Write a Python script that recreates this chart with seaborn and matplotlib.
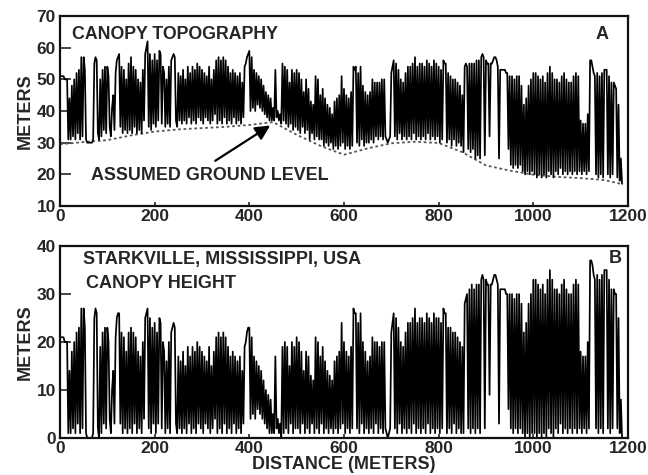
import numpy as np
import pandas as pd
import seaborn as sns
import matplotlib.pyplot as plt

# distance along the transect, every 2.5 m
distance = np.arange(0, 1190, 2.5)

# panel A: canopy top elevation (m), 100 m per block
topo = (
    [51, 51, 51, 51, 50, 50, 50, 31, 44, 31, 48, 32, 50, 31, 52, 33,
     53, 31, 57, 32, 57, 53, 31, 30, 30, 30, 30, 30, 31, 55, 57, 56,
     33, 31, 50, 32, 53, 34, 54, 33] +
    [54, 51, 35, 32, 41, 45, 34, 52, 56, 57, 58, 35, 54, 33, 53, 34,
     50, 33, 55, 34, 57, 33, 54, 35, 53, 33, 50, 34, 49, 33, 53, 37,
     58, 60, 62, 35, 58, 34, 56, 36] +
    [58, 35, 56, 37, 59, 58, 36, 54, 52, 35, 50, 36, 54, 35, 56, 57,
     58, 57, 37, 35, 52, 37, 51, 36, 53, 37, 50, 36, 54, 38, 52, 36,
     54, 37, 53, 36, 55, 38, 54, 37] +
    [53, 36, 52, 38, 51, 37, 54, 36, 50, 37, 53, 39, 56, 36, 57, 37,
     56, 36, 57, 38, 56, 36, 54, 37, 52, 36, 53, 38, 52, 36, 51, 37,
     52, 36, 49, 38, 54, 55, 57, 58] +
    [59, 40, 57, 41, 53, 40, 52, 42, 51, 41, 50, 40, 48, 39, 46, 38,
     45, 37, 44, 37, 41, 37, 53, 38, 40, 37, 39, 36, 55, 37, 54, 36,
     53, 35, 49, 36, 53, 34, 52, 35] +
    [53, 34, 52, 33, 50, 35, 46, 33, 50, 34, 47, 31, 43, 33, 42, 31,
     51, 32, 50, 31, 45, 31, 47, 29, 44, 30, 42, 29, 41, 30, 39, 28,
     43, 29, 44, 28, 45, 29, 51, 30] +
    [47, 28, 45, 29, 44, 28, 46, 29, 54, 53, 54, 30, 52, 29, 54, 31,
     48, 29, 46, 30, 45, 30, 46, 31, 50, 30, 49, 32, 49, 31, 49, 32,
     50, 31, 50, 32, 31, 30, 31, 32] +
    [52, 54, 56, 32, 55, 31, 53, 33, 50, 31, 49, 32, 52, 31, 54, 32,
     54, 31, 55, 33, 57, 31, 54, 32, 55, 31, 55, 32, 54, 31, 56, 33,
     55, 31, 54, 32, 56, 31, 55, 32] +
    [54, 30, 53, 31, 56, 55, 55, 30, 52, 31, 51, 29, 50, 31, 50, 29,
     49, 30, 48, 29, 45, 27, 54, 55, 54, 28, 55, 27, 55, 28, 55, 25,
     56, 26, 56, 25, 57, 58, 57, 26] +
    [56, 55, 55, 32, 55, 55, 56, 57, 57, 56, 54, 25, 53, 53, 53, 53,
     53, 52, 52, 28, 51, 23, 51, 22, 50, 23, 51, 22, 51, 23, 48, 21,
     42, 20, 44, 21, 48, 20, 50, 21] +
    [52, 20, 52, 19, 51, 20, 50, 19, 51, 20, 49, 19, 52, 21, 54, 20,
     52, 19, 50, 21, 50, 20, 49, 22, 51, 20, 52, 21, 50, 20, 49, 21,
     49, 20, 51, 21, 52, 20, 51, 21] +
    [37, 20, 36, 21, 36, 20, 39, 21, 56, 56, 54, 52, 51, 20, 52, 19,
     51, 20, 52, 19, 53, 53, 53, 20, 51, 19, 49, 20, 49, 48, 47, 19,
     42, 18, 25, 17]
)

# panel B: canopy height (m)
height = (
    [21, 21, 21, 21, 20, 20, 20, 1, 14, 1, 18, 2, 20, 1, 22, 3,
     23, 1, 27, 2, 27, 23, 1, 0, 0, 0, 0, 0, 1, 25, 27, 26,
     2, 0, 19, 1, 22, 3, 23, 2] +
    [23, 20, 4, 1, 10, 14, 3, 21, 25, 26, 26, 3, 22, 1, 21, 2,
     18, 1, 22, 2, 23, 1, 22, 3, 21, 1, 18, 2, 17, 1, 20, 4,
     25, 26, 27, 2, 25, 1, 23, 3] +
    [24, 1, 22, 3, 25, 24, 2, 20, 18, 1, 16, 2, 20, 1, 22, 23,
     24, 23, 3, 1, 17, 2, 16, 1, 18, 2, 15, 1, 19, 3, 17, 1,
     19, 2, 18, 1, 20, 3, 19, 2] +
    [18, 1, 17, 3, 16, 2, 19, 1, 15, 2, 18, 4, 21, 1, 22, 2,
     21, 1, 22, 3, 21, 1, 19, 2, 17, 1, 18, 3, 17, 1, 16, 2,
     17, 1, 14, 3, 19, 20, 22, 23] +
    [23, 4, 21, 5, 17, 4, 16, 6, 15, 5, 14, 4, 12, 3, 10, 2,
     9, 1, 8, 1, 5, 1, 17, 2, 4, 1, 3, 0, 19, 1, 20, 2,
     19, 1, 15, 3, 20, 1, 19, 2] +
    [21, 2, 20, 1, 18, 3, 14, 1, 18, 2, 17, 1, 13, 3, 12, 1,
     21, 2, 20, 1, 17, 3, 19, 1, 16, 2, 14, 1, 13, 2, 12, 1,
     16, 2, 17, 1, 18, 2, 24, 3] +
    [20, 1, 18, 2, 17, 1, 19, 2, 27, 26, 26, 2, 24, 1, 26, 3,
     20, 1, 18, 2, 16, 1, 17, 2, 21, 1, 20, 3, 20, 1, 19, 2,
     20, 1, 20, 2, 1, 0, 1, 2] +
    [22, 24, 26, 2, 25, 1, 23, 3, 20, 1, 19, 2, 22, 1, 24, 2,
     24, 1, 25, 3, 27, 1, 24, 2, 25, 1, 25, 2, 24, 1, 26, 3,
     25, 1, 24, 2, 26, 1, 25, 2] +
    [25, 1, 24, 2, 27, 26, 26, 1, 23, 2, 23, 1, 22, 3, 22, 1,
     21, 2, 20, 1, 19, 1, 28, 29, 30, 2, 31, 1, 32, 2, 31, 1,
     32, 2, 32, 1, 33, 34, 33, 2] +
    [33, 32, 32, 9, 32, 32, 33, 34, 34, 33, 32, 3, 31, 31, 31, 31,
     31, 30, 30, 6, 30, 2, 30, 1, 29, 2, 30, 1, 30, 2, 28, 1,
     22, 0, 24, 1, 28, 0, 30, 1] +
    [33, 1, 33, 0, 32, 1, 31, 0, 32, 1, 30, 0, 33, 2, 35, 1,
     33, 0, 31, 2, 31, 1, 30, 3, 32, 1, 33, 2, 31, 1, 30, 2,
     30, 1, 32, 2, 33, 1, 32, 2] +
    [18, 1, 17, 2, 17, 1, 20, 2, 37, 37, 36, 34, 33, 2, 34, 1,
     33, 2, 34, 1, 35, 35, 35, 2, 33, 1, 31, 2, 31, 30, 30, 2,
     25, 1, 8, 0]
)

# assumed ground level (dotted line in panel A)
ground_x = [0, 50, 100, 150, 200, 250, 300, 350, 400, 450, 500, 550, 600,
            650, 700, 750, 800, 850, 900, 950, 1000, 1050, 1100, 1150, 1185]
ground_y = [29.5, 30.2, 30.8, 32.3, 33.5, 34.2, 34.6, 35.0, 35.6, 36.5, 32.5, 29.0, 26.2,
            28.2, 29.8, 30.3, 29.9, 27.0, 22.8, 21.2, 19.9, 19.2, 18.8, 18.2, 17.0]

df = pd.DataFrame({"distance": distance, "topo": topo, "height": height})
gdf = pd.DataFrame({"x": ground_x, "y": ground_y})

sns.set_style("ticks")
plt.rcParams["font.family"] = ["Liberation Sans", "DejaVu Sans"]
plt.rcParams["font.weight"] = "bold"

fig = plt.figure(figsize=(6.48, 4.75), dpi=100)
ax1 = fig.add_axes([0.0926, 0.5663, 0.8765, 0.40])
ax2 = fig.add_axes([0.0926, 0.0779, 0.8765, 0.404])

# panel A
sns.lineplot(data=gdf, x="x", y="y", ax=ax1, color="#555555", lw=1.3,
             linestyle=(0, (1.5, 1.5)))
sns.lineplot(data=df, x="distance", y="topo", ax=ax1, color="black", lw=1.25)
ax1.set_xlim(0, 1200)
ax1.set_ylim(10, 70)
ax1.set_yticks([10, 20, 30, 40, 50, 60, 70])
ax1.set_xticks([0, 200, 400, 600, 800, 1000, 1200])
ax1.set_ylabel("METERS", fontsize=13, fontweight="bold", labelpad=2)
ax1.set_xlabel("")
ax1.text(0.021, 0.905, "CANOPY TOPOGRAPHY", transform=ax1.transAxes,
         fontsize=12.8, fontweight="bold", va="center", ha="left")
ax1.text(0.954, 0.905, "A", transform=ax1.transAxes,
         fontsize=13, fontweight="bold", va="center", ha="center")
ax1.text(66, 19.6, "ASSUMED GROUND LEVEL", fontsize=12.9, fontweight="bold",
         va="center", ha="left")
ax1.annotate("", xy=(449, 35.9), xytext=(323, 23.8),
             arrowprops=dict(arrowstyle="-|>", color="black", lw=1.6,
                             mutation_scale=22))

# panel B
sns.lineplot(data=df, x="distance", y="height", ax=ax2, color="black", lw=1.25)
ax2.set_xlim(0, 1200)
ax2.set_ylim(0, 40)
ax2.set_yticks([0, 10, 20, 30, 40])
ax2.set_xticks([0, 200, 400, 600, 800, 1000, 1200])
ax2.set_ylabel("METERS", fontsize=13, fontweight="bold", labelpad=2)
ax2.set_xlabel("DISTANCE (METERS)", fontsize=13, fontweight="bold", labelpad=0)
ax2.text(0.04, 0.932, "STARKVILLE, MISSISSIPPI, USA", transform=ax2.transAxes,
         fontsize=13, fontweight="bold", va="center", ha="left")
ax2.text(0.045, 0.807, "CANOPY HEIGHT", transform=ax2.transAxes,
         fontsize=13, fontweight="bold", va="center", ha="left")
ax2.text(0.977, 0.937, "B", transform=ax2.transAxes,
         fontsize=13, fontweight="bold", va="center", ha="center")

for ax in (ax1, ax2):
    for s in ax.spines.values():
        s.set_linewidth(1.6)
        s.set_color("#111111")
    ax.tick_params(axis="y", direction="in", length=8, width=1.2, labelsize=12.5, pad=3)
    ax.tick_params(axis="x", direction="in", length=3, width=1.2, labelsize=12.5, pad=2)
    for lab in ax.get_xticklabels() + ax.get_yticklabels():
        lab.set_fontweight("bold")

fig.savefig("out.png", dpi=100)
